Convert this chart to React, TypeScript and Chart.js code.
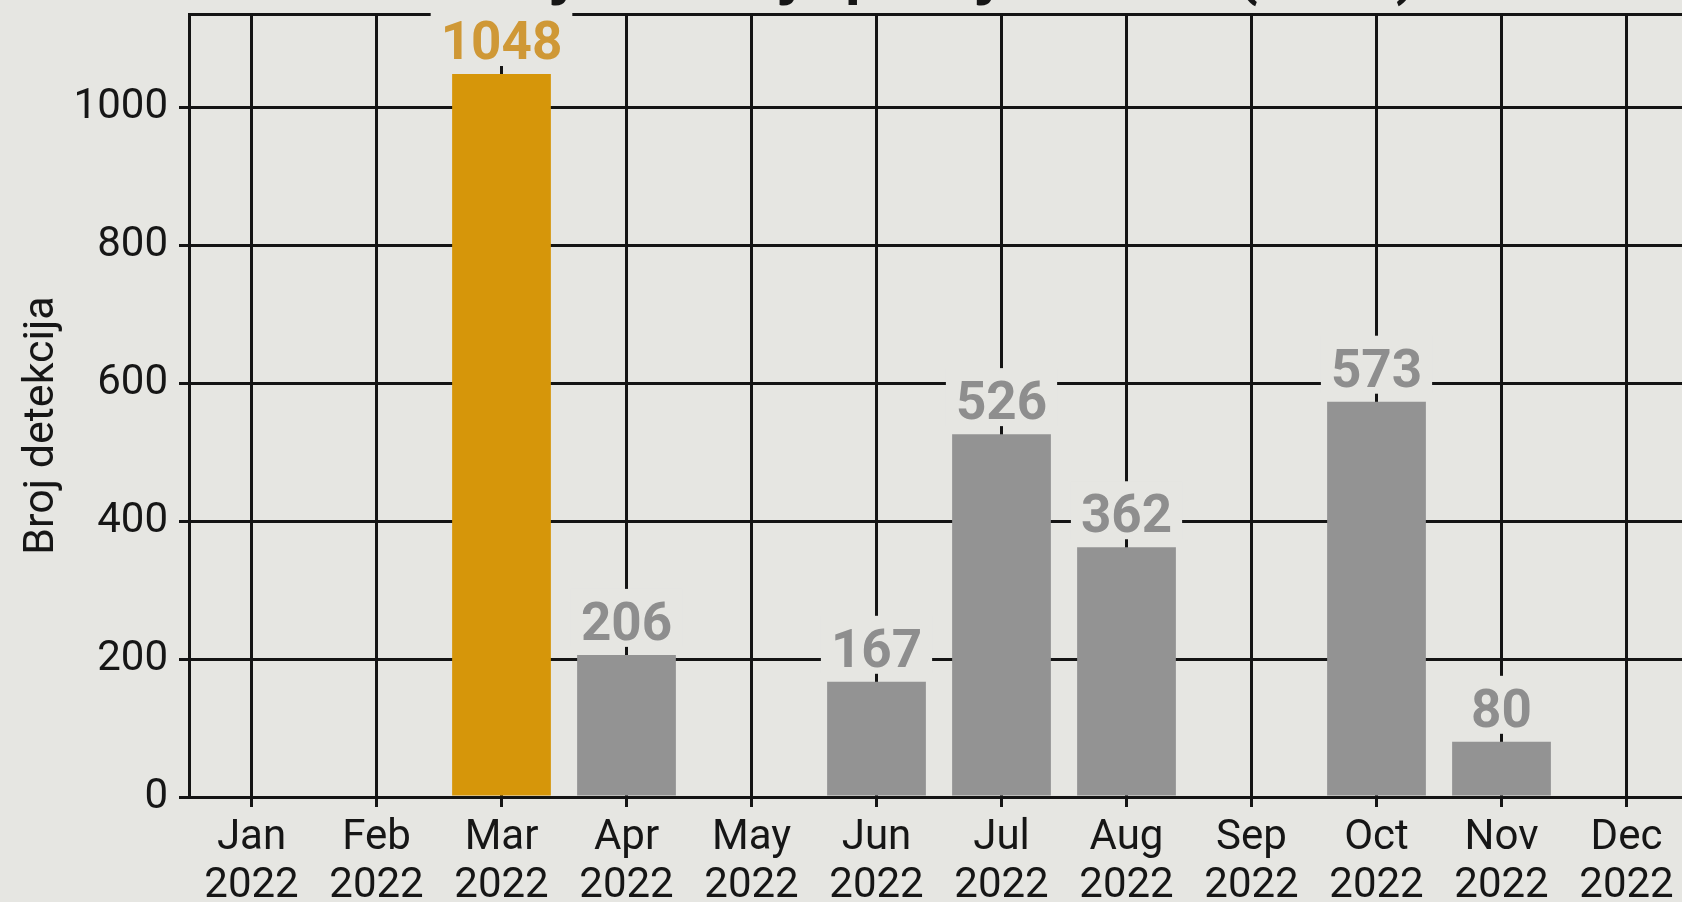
import React, { useEffect, useRef } from 'react';
import { Chart, registerables } from 'chart.js';

Chart.register(...registerables);

// ---- data ----
const MONTHS = ['Jan', 'Feb', 'Mar', 'Apr', 'May', 'Jun', 'Jul', 'Aug', 'Sep', 'Oct', 'Nov', 'Dec'];
const YEAR = '2022';
const DETECTIONS = [0, 0, 1048, 206, 0, 167, 526, 362, 0, 573, 80, 0];
const HIGHLIGHT_INDEX = 2;
const Y_TICKS = [0, 200, 400, 600, 800, 1000];
const Y_MAX = 1135;
const TITLE = 'Broj detekcija po mjesecima (2022)';
const Y_TITLE = 'Broj detekcija';

// ---- style ----
const BG = '#E6E6E2';
const LINE = '#141414';
const TEXT = '#161616';
const ORANGE = '#D6960A';
const ORANGE_LABEL = '#CF9836';
const GRAY = '#939393';
const GRAY_LABEL = '#8E8E8E';
const FONT = 'Roboto';

const CANVAS_W = 1720;
const CANVAS_H = 1100;
const OFFSET_TOP = 100;

const overlayPlugin = {
  id: 'overlay',
  afterDatasetsDraw(chart: any) {
    const { ctx, chartArea } = chart;
    const meta = chart.getDatasetMeta(0);
    ctx.save();
    // value labels with background boxes
    ctx.font = `bold 53px ${FONT}`;
    ctx.textAlign = 'center';
    ctx.textBaseline = 'alphabetic';
    meta.data.forEach((bar: any, i: number) => {
      const v = DETECTIONS[i];
      if (!v) return;
      const text = String(v);
      const w = ctx.measureText(text).width;
      const base = bar.y - 15;
      ctx.fillStyle = BG;
      ctx.fillRect(bar.x - w / 2 - 10, base - 51, w + 20, 58);
      ctx.fillStyle = i === HIGHLIGHT_INDEX ? ORANGE_LABEL : GRAY_LABEL;
      ctx.fillText(text, bar.x, base);
    });
    // chart title (mostly cropped above the view)
    ctx.font = `bold 60px ${FONT}`;
    ctx.fillStyle = TEXT;
    ctx.textAlign = 'center';
    ctx.fillText(TITLE, (chartArea.left + chartArea.right) / 2, chartArea.top - 21);
    // y axis title
    ctx.font = `43px ${FONT}`;
    ctx.translate(53, (chartArea.top + chartArea.bottom) / 2 + 20);
    ctx.rotate(-Math.PI / 2);
    ctx.textAlign = 'center';
    ctx.fillText(Y_TITLE, 0, 0);
    ctx.restore();
  },
};

export default function App() {
  const ref = useRef<HTMLCanvasElement | null>(null);

  useEffect(() => {
    if (!ref.current) return;
    const labels = MONTHS.map((m) => [m, YEAR]);
    const chart = new Chart(ref.current, {
      type: 'bar',
      data: {
        labels,
        datasets: [
          {
            data: DETECTIONS,
            backgroundColor: DETECTIONS.map((_, i) => (i === HIGHLIGHT_INDEX ? ORANGE : GRAY)),
            borderWidth: 0,
            barPercentage: 1,
            categoryPercentage: 0.79,
          },
        ],
      },
      options: {
        responsive: false,
        animation: false,
        devicePixelRatio: 1,
        layout: { padding: { top: 114, left: 0, right: 31, bottom: 0 } },
        plugins: {
          legend: { display: false },
          title: { display: false },
          tooltip: { enabled: false },
        },
        scales: {
          x: {
            offset: true,
            grid: {
              offset: false,
              color: LINE,
              lineWidth: 3,
              drawTicks: true,
              tickLength: 10,
              tickColor: LINE,
              tickWidth: 3,
            },
            border: { display: true, color: LINE, width: 3 },
            ticks: {
              color: TEXT,
              font: { family: FONT, size: 42, lineHeight: 1.15 },
              padding: 7,
              maxRotation: 0,
              minRotation: 0,
              autoSkip: false,
            },
            afterFit: (s: any) => {
              s.height = CANVAS_H - 897;
            },
          },
          y: {
            min: 0,
            max: Y_MAX,
            afterBuildTicks: (s: any) => {
              s.ticks = [...Y_TICKS, Y_MAX].map((v) => ({ value: v }));
            },
            grid: {
              color: LINE,
              lineWidth: 3,
              drawTicks: true,
              tickLength: 10,
              tickWidth: 3,
              tickColor: (c: any) =>
                c.tick && Y_TICKS.includes(c.tick.value) ? LINE : 'rgba(0,0,0,0)',
            },
            border: { display: true, color: LINE, width: 3 },
            ticks: {
              color: TEXT,
              font: { family: FONT, size: 42 },
              padding: 11,
              callback: (v: any) => (Y_TICKS.includes(Number(v)) ? String(v) : ''),
            },
            afterFit: (s: any) => {
              s.width = 189;
            },
          },
        },
      },
      plugins: [overlayPlugin],
    });
    return () => chart.destroy();
  }, []);

  return (
    <div
      style={{
        position: 'fixed',
        left: 0,
        top: 0,
        width: '100vw',
        height: '100vh',
        overflow: 'hidden',
        background: BG,
      }}
    >
      <canvas
        ref={ref}
        width={CANVAS_W}
        height={CANVAS_H}
        style={{ position: 'absolute', left: 0, top: -OFFSET_TOP, width: CANVAS_W, height: CANVAS_H }}
      />
    </div>
  );
}
